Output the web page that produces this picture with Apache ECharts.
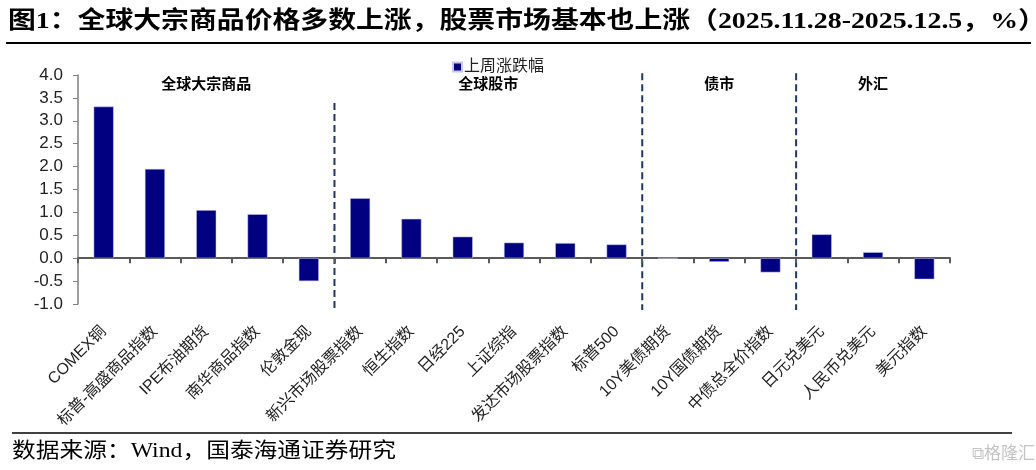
<!DOCTYPE html>
<html><head><meta charset="utf-8">
<script src="https://cdn.jsdelivr.net/npm/echarts@6/dist/echarts.min.js"></script>
<style>html,body{margin:0;padding:0;background:#fff;}#c{width:1036px;height:470px;}</style>
</head><body><div id="c"></div>
<script>
const categories = ['COMEX铜','标普-高盛商品指数','IPE布油期货','南华商品指数','伦敦金现','新兴市场股票指数','恒生指数','日经225','上证综指','发达市场股票指数','标普500','10Y美债期货','10Y国债期货','中债总全价指数','日元兑美元','人民币兑美元','美元指数'];
const weeklyChange = [3.31,1.95,1.05,0.96,-0.50,1.31,0.86,0.47,0.34,0.33,0.30,0.00,-0.08,-0.31,0.52,0.13,-0.46];
const seriesName = '上周涨跌幅';
const groupNames = ['全球大宗商品','全球股市','债市','外汇'];
const groupFirst = [0,5,11,14];
const groupLast = [4,10,13,16];
const dividerAfter = [4,10,13];
const dividerTop = [3.39,4.04,4.04];
const dividerBottom = -1.13;
const titleText = '图1：全球大宗商品价格多数上涨，股票市场基本也上涨（2025.11.28-2025.12.5，%）';
const sourceText = '数据来源：Wind，国泰海通证券研究';

const serif = '"Liberation Serif","Noto Sans CJK SC",serif';
const sans = '"Liberation Sans","Noto Sans CJK SC",sans-serif';

const chart = echarts.init(document.getElementById('c'), null, {renderer:'canvas'});
const option = {
  animation: false,
  backgroundColor: '#fff',
  grid: {left: 78, right: 86, top: 75, bottom: 166, containLabel: false},
  legend: {
    data: [seriesName], left: 447, top: 54, icon: 'rect', itemWidth: 9, itemHeight: 9, itemGap: 4,
    textStyle: {fontSize: 16, color: '#222', fontFamily: sans, padding:[0,0,0,-3]}
  },
  xAxis: {
    type: 'category', data: categories,
    axisLine: {onZero: true, lineStyle: {color: '#5a5a5a', width: 2}},
    axisTick: {show: true, length: 5, lineStyle: {color: '#5a5a5a', width: 2}},
    axisLabel: {interval: 0, rotate: 45, margin: 25, fontSize: 16, color: '#222', fontFamily: sans}
  },
  yAxis: {
    type: 'value', min: -1, max: 4, interval: 0.5,
    splitLine: {show: false},
    axisLine: {show: true, lineStyle: {color: '#7f7f7f', width: 1.5}},
    axisTick: {show: true, length: 5, lineStyle: {color: '#7f7f7f'}},
    axisLabel: {margin: 15, fontSize: 17, color: '#222', fontFamily: sans, formatter: v => v.toFixed(1)}
  },
  series: [{
    name: seriesName, type: 'bar', data: weeklyChange, barWidth: 20,
    itemStyle: {color: '#000080', borderColor: '#c8c8ee', borderWidth: 0.5}
  }]
};
chart.setOption(option);

function px(x, y) { return chart.convertToPixel({gridIndex: 0}, [x, y]); }
const graphics = [];
graphics.push({type:'text', x: 8, y: 10, scaleX: 1.16, style:{text: titleText, font: 'bold 24px ' + serif, fill:'#000', verticalAlign:'top'}});
graphics.push({type:'line', shape:{x1:6, y1:43, x2:1031, y2:43}, style:{stroke:'#000', lineWidth:2}});
graphics.push({type:'line', shape:{x1:12, y1:433, x2:1012, y2:433}, style:{stroke:'#000', lineWidth:1.5}});
graphics.push({type:'text', x: 12, y: 441, scaleX: 1.13, style:{text: sourceText, font: '21px ' + serif, fill:'#000', verticalAlign:'top'}});
graphics.push({type:'text', x: 972, y: 446, style:{text: '⧉格隆汇', font: '17px ' + sans, fill:'#c4c4c4', verticalAlign:'top'}});
for (let i = 0; i < groupNames.length; i++) {
  const a = px(groupFirst[i], 0), b = px(groupLast[i], 0);
  const top = px(0, 4)[1];
  graphics.push({type:'text', x: (a[0]+b[0])/2, y: top + 10, style:{text: groupNames[i], font: 'bold 15px ' + sans, fill:'#000', align:'center', verticalAlign:'middle'}});
}
for (let i = 0; i < dividerAfter.length; i++) {
  const a = px(dividerAfter[i], dividerTop[i]), b = px(dividerAfter[i] + 1, dividerBottom);
  const x = (a[0] + b[0]) / 2;
  graphics.push({type:'line', shape:{x1:x, y1:a[1], x2:x, y2:b[1]}, style:{stroke:'#1f3864', lineWidth:2, lineDash:[7,4]}});
}
chart.setOption({graphic: graphics});
</script></body></html>
